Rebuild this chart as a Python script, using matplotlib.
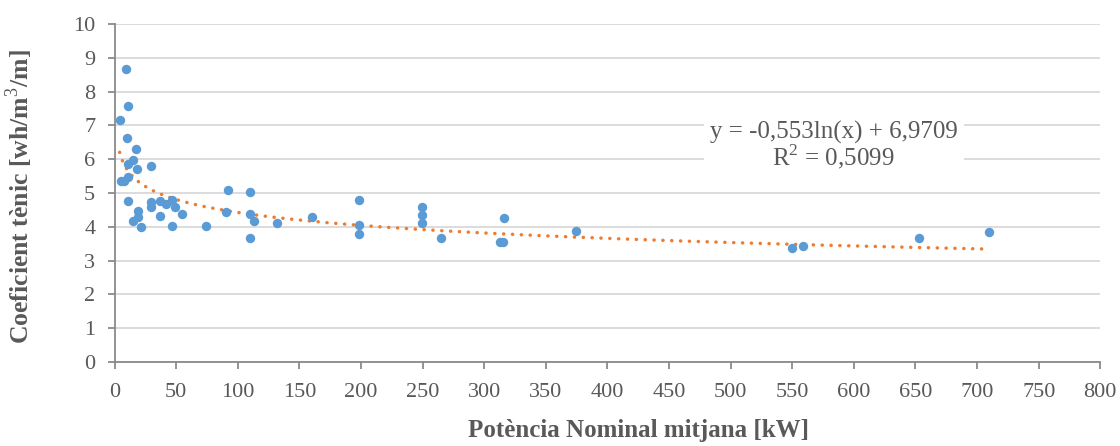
import numpy as np
import matplotlib
matplotlib.use("Agg")
import matplotlib.pyplot as plt

# ---- data ----
potencia = [8.9, 11.0, 4.0, 9.7, 17.5, 14.6, 10.8, 18.3, 29.7, 5.1,
            7.5, 10.8, 11.0, 18.7, 18.7, 14.6, 21.6, 29.7, 29.7, 36.8,
            41.6, 46.5, 48.7, 36.8, 54.9, 46.5, 74.4, 92.2, 90.1, 109.6,
            109.6, 112.8, 109.6, 131.5, 159.9, 198, 198, 198, 249.7, 249.7,
            249.7, 264.8, 316.1, 312.7, 315.4, 374.8, 549.4, 558.9, 652.6, 709.7]
coeficient = [8.68, 7.58, 7.16, 6.62, 6.31, 5.97, 5.85, 5.71, 5.81, 5.35,
              5.36, 5.48, 4.75, 4.47, 4.30, 4.17, 4.00, 4.72, 4.58, 4.75,
              4.67, 4.78, 4.58, 4.33, 4.38, 4.03, 4.02, 5.08, 4.43, 5.02,
              4.38, 4.16, 3.67, 4.12, 4.28, 4.79, 4.05, 3.80, 4.60, 4.35,
              4.11, 3.68, 4.26, 3.55, 3.55, 3.88, 3.38, 3.43, 3.68, 3.85]
trend_a = -0.553
trend_b = 6.9709
eq_text = "y = -0,553ln(x) + 6,9709\nR$^2$ = 0,5099"
xticks = list(range(0, 801, 50))
yticks = list(range(0, 11))
xlabel = "Potència Nominal mitjana [kW]"
ylabel = "Coeficient tènic [wh/m$^3$/m]"

plt.rcParams['font.family'] = ['Liberation Serif', 'DejaVu Serif']
plt.rcParams['mathtext.fontset'] = 'custom'
plt.rcParams['mathtext.rm'] = 'Liberation Serif'
plt.rcParams['mathtext.bf'] = 'Liberation Serif:bold'

W, H = 1120, 446
fig = plt.figure(figsize=(W / 100, H / 100), dpi=100)
x0px, x1px, y0px, y1px = 114.7, 1100.3, 362, 24
ax = fig.add_axes([x0px / W, (H - y0px) / H, (x1px - x0px) / W, (y0px - y1px) / H])

ax.scatter(potencia, coeficient, s=46, color='#5B9BD5', zorder=3, linewidths=0)

xt = np.linspace(min(potencia), max(potencia), 600)
yt = trend_a * np.log(xt) + trend_b
ax.plot(xt, yt, color='#ED7D31', lw=2.5, linestyle=(0, (0.05, 2.5)),
        dash_capstyle='round', zorder=2)

ax.set_xlim(0, 800)
ax.set_ylim(0, 10)
ax.set_xticks(xticks)
ax.set_yticks(yticks)
ax.grid(axis='y', color='#d9d9d9', lw=1.3)
ax.set_axisbelow(True)
for s in ['top', 'right']:
    ax.spines[s].set_visible(False)
for s in ['left', 'bottom']:
    ax.spines[s].set_color('#8a8a8a')
    ax.spines[s].set_linewidth(1.3)
ax.tick_params(axis='both', colors='#8a8a8a', length=5, width=1.3,
               labelcolor='#595959', labelsize=16)
ax.tick_params(axis='x', pad=10)
ax.tick_params(axis='y', pad=9)

ax.set_xlabel(xlabel, fontsize=18, fontweight='bold', color='#595959')
ax.set_ylabel(ylabel, fontsize=18.5, fontweight='bold', color='#595959')
pw, ph = x1px - x0px, y0px - y1px
ax.xaxis.set_label_coords((639 - x0px) / pw, (y0px - 419) / ph)
ax.yaxis.set_label_coords((35 - x0px) / pw, 0.49)

ax.text(583.6, 6.38, eq_text, ha='center', va='center', fontsize=18, color='#595959',
        linespacing=0.92,
        bbox=dict(boxstyle='square,pad=0.25', fc='white', ec='none'), zorder=4)

fig.savefig('out.png', dpi=100)
